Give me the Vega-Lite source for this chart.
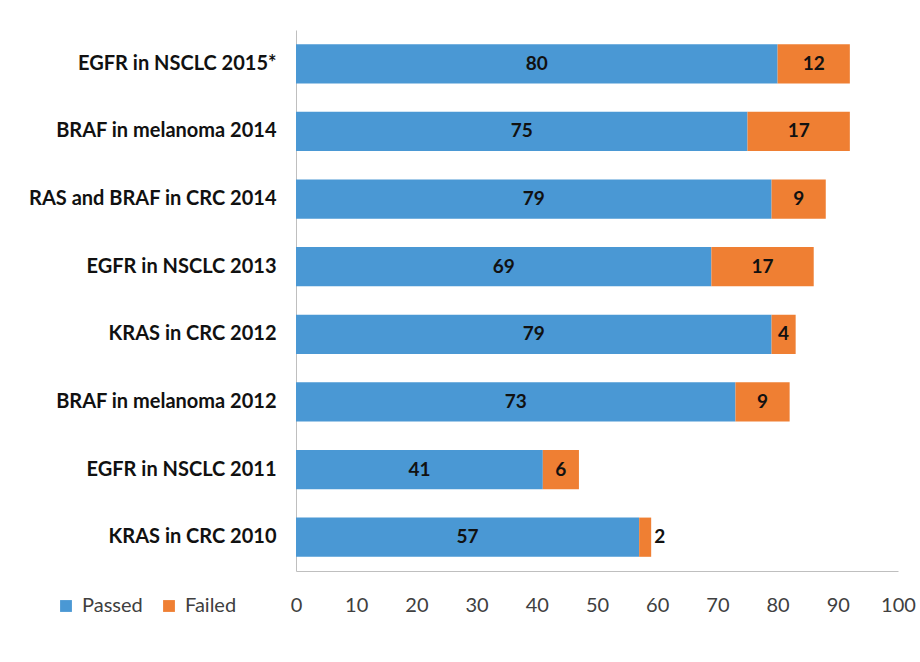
{
  "$schema": "https://vega.github.io/schema/vega-lite/v6.json",
  "width": 602,
  "height": 541,
  "autosize": {"type": "none"},
  "padding": {"left": 296, "top": 30, "right": 22, "bottom": 91},
  "background": "white",
  "config": {"view": {"stroke": null}, "font": "Lato"},
  "data": {
    "values": [
      {"test": "EGFR in NSCLC 2015*", "result": "Passed", "n": 80, "k": 1},
      {"test": "EGFR in NSCLC 2015*", "result": "Failed", "n": 12, "k": 2},
      {"test": "BRAF in melanoma 2014", "result": "Passed", "n": 75, "k": 1},
      {"test": "BRAF in melanoma 2014", "result": "Failed", "n": 17, "k": 2},
      {"test": "RAS and BRAF in CRC 2014", "result": "Passed", "n": 79, "k": 1},
      {"test": "RAS and BRAF in CRC 2014", "result": "Failed", "n": 9, "k": 2},
      {"test": "EGFR in NSCLC 2013", "result": "Passed", "n": 69, "k": 1},
      {"test": "EGFR in NSCLC 2013", "result": "Failed", "n": 17, "k": 2},
      {"test": "KRAS in CRC 2012", "result": "Passed", "n": 79, "k": 1},
      {"test": "KRAS in CRC 2012", "result": "Failed", "n": 4, "k": 2},
      {"test": "BRAF in melanoma 2012", "result": "Passed", "n": 73, "k": 1},
      {"test": "BRAF in melanoma 2012", "result": "Failed", "n": 9, "k": 2},
      {"test": "EGFR in NSCLC 2011", "result": "Passed", "n": 41, "k": 1},
      {"test": "EGFR in NSCLC 2011", "result": "Failed", "n": 6, "k": 2},
      {"test": "KRAS in CRC 2010", "result": "Passed", "n": 57, "k": 1},
      {"test": "KRAS in CRC 2010", "result": "Failed", "n": 2, "k": 2}
    ]
  },
  "transform": [
    {"stack": "n", "groupby": ["test"], "sort": [{"field": "k"}], "as": ["s0", "s1"]},
    {"calculate": "(datum.s0 + datum.s1) / 2", "as": "mid"}
  ],
  "encoding": {
    "y": {
      "field": "test",
      "type": "nominal",
      "sort": null,
      "scale": {"paddingInner": 0.42, "paddingOuter": 0.21},
      "axis": {
        "title": null,
        "ticks": false,
        "domainColor": "#bfbfbf",
        "labelFont": "Lato",
        "labelFontWeight": "bold",
        "labelFontSize": 20,
        "labelColor": "#111111",
        "labelPadding": 20,
        "labelLimit": 290
      }
    }
  },
  "layer": [
    {
      "mark": {"type": "bar"},
      "encoding": {
        "x": {
          "field": "s0",
          "type": "quantitative",
          "scale": {"domain": [0, 100], "nice": false},
          "axis": {
            "title": null,
            "values": [0, 10, 20, 30, 40, 50, 60, 70, 80, 90, 100],
            "grid": false,
            "ticks": false,
            "domainColor": "#bfbfbf",
            "labelFont": "Lato",
            "labelFontSize": 20,
            "labelColor": "#404040",
            "labelPadding": 24,
            "labelFlush": false
          }
        },
        "x2": {"field": "s1"},
        "color": {
          "field": "result",
          "type": "nominal",
          "scale": {"domain": ["Passed", "Failed"], "range": ["#4a98d4", "#ef7f33"]},
          "legend": {
            "title": null,
            "orient": "none",
            "direction": "horizontal",
            "legendX": -240,
            "legendY": 566,
            "symbolType": "square",
            "symbolSize": 140,
            "symbolOpacity": 1,
            "labelFont": "Lato",
            "labelFontSize": 20,
            "labelColor": "#404040",
            "labelOffset": 6,
            "columnPadding": 16,
            "symbolStrokeWidth": 0
          }
        }
      }
    },
    {
      "transform": [{"filter": "datum.n > 2"}],
      "mark": {"type": "text", "font": "Lato", "fontWeight": "bold", "fontSize": 19, "color": "#111111", "baseline": "middle", "align": "center"},
      "encoding": {
        "x": {"field": "mid", "type": "quantitative"},
        "text": {"field": "n", "type": "quantitative"}
      }
    },
    {
      "transform": [{"filter": "datum.n <= 2"}],
      "mark": {"type": "text", "font": "Lato", "fontWeight": "bold", "fontSize": 19, "color": "#111111", "baseline": "middle", "align": "left", "dx": 3},
      "encoding": {
        "x": {"field": "s1", "type": "quantitative"},
        "text": {"field": "n", "type": "quantitative"}
      }
    }
  ]
}
